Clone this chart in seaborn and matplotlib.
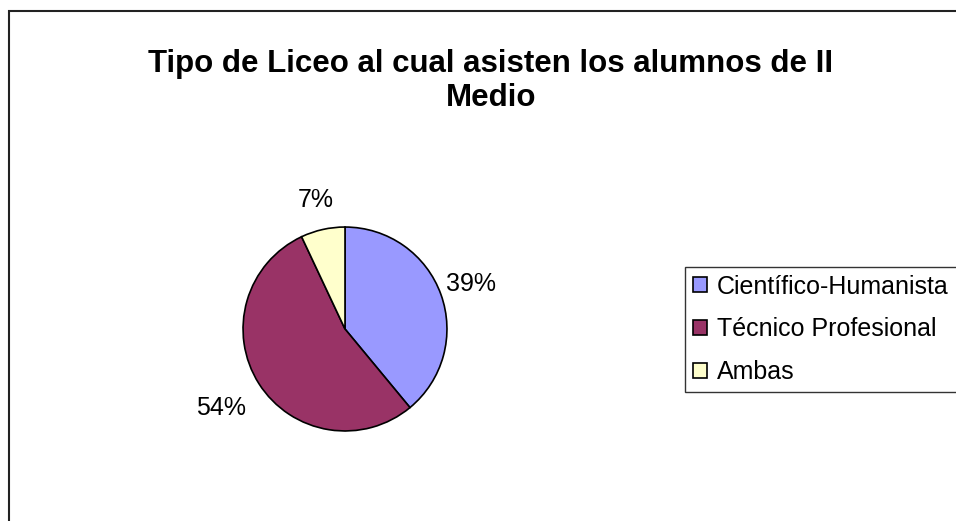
import seaborn as sns
import matplotlib.pyplot as plt
from matplotlib.patches import Rectangle
import numpy as np

categorias = ['Científico-Humanista', 'Técnico Profesional', 'Ambas']
porcentajes = [39, 54, 7]
colores = ['#9999FF', '#993366', '#FFFFCC']
titulo = 'Tipo de Liceo al cual asisten los alumnos de II\nMedio'

sns.set_theme(style='white')
plt.rcParams['font.family'] = ['Liberation Sans', 'DejaVu Sans']
plt.rcParams['text.color'] = 'black'

fig = plt.figure(figsize=(9.56, 5.21), dpi=100)
fig.patch.set_facecolor('white')

# marco del grafico (se corta a la derecha y abajo)
fig.patches.append(Rectangle((9 / 956, -0.1), 1.2, 1.1 - 11 / 521, transform=fig.transFigure,
                             fill=False, edgecolor='#222222', linewidth=1.5))

ax = fig.add_axes([(345 - 104) / 956, (521 - 329 - 104) / 521, 208 / 956, 208 / 521])
wedges, _ = ax.pie(porcentajes, colors=colores, startangle=90, counterclock=False,
                   radius=1, wedgeprops=dict(edgecolor='black', linewidth=1.2))
ax.set_xlim(-1.02, 1.02)
ax.set_ylim(-1.02, 1.02)
ax.set_aspect('equal')
ax.axis('off')

# etiquetas de porcentaje fuera de la torta
dist = [1.31, 1.44, 1.30]
for w, p, d in zip(wedges, porcentajes, dist):
    ang = np.deg2rad((w.theta1 + w.theta2) / 2)
    ax.text(d * np.cos(ang), d * np.sin(ang), f'{p}%', ha='center', va='center',
            fontsize=18, color='black', clip_on=False)

fig.text(491 / 956, 1 - 81 / 521, titulo, ha='center', va='center', fontsize=22.5,
         fontweight='bold', linespacing=1.2, color='black')

# la leyenda se sale por la derecha, como en el original
leg = fig.legend(wedges, categorias, loc='upper left',
                 bbox_to_anchor=(685 / 956, 1 - 267 / 521, 0.32, 0.0), mode='expand',
                 fontsize=18, frameon=True, fancybox=False, handlelength=0.56, handleheight=0.56,
                 handletextpad=0.42, labelspacing=0.75, borderpad=0.3, borderaxespad=0)
leg.get_frame().set_edgecolor('black')
leg.get_frame().set_linewidth(1.0)
for t in leg.get_texts():
    t.set_color('black')

fig.savefig('out.png', dpi=100)
